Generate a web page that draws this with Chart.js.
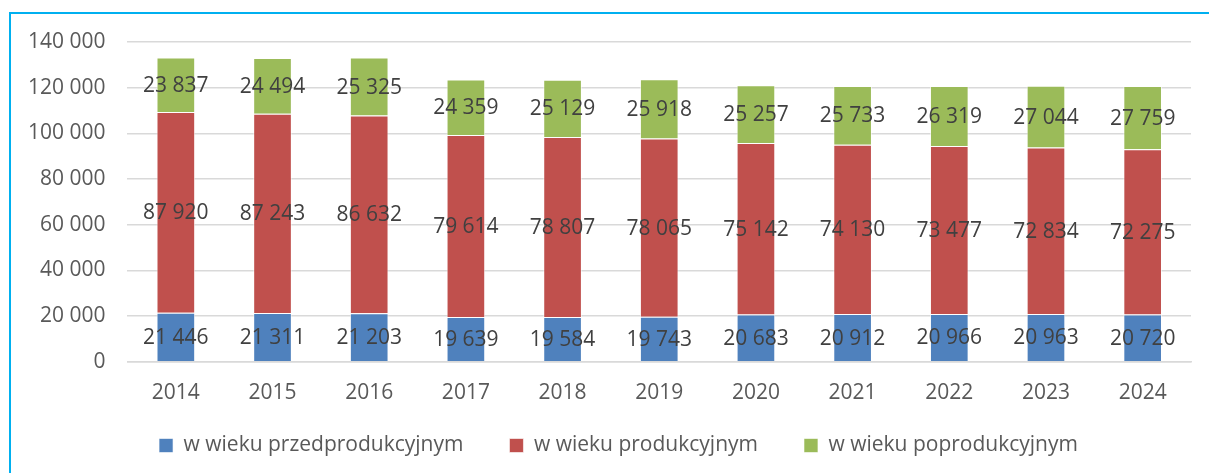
<!DOCTYPE html>
<html>
<head>
<meta charset="utf-8">
<script src="https://cdn.jsdelivr.net/npm/chart.js@4.4.1/dist/chart.umd.min.js"></script>
<style>
  html, body { margin: 0; padding: 0; background: #fff; overflow: hidden; }
  #frame {
    position: absolute; left: 9px; top: 12px; right: -20px; bottom: -20px;
    border-left: 2px solid #00B0F0; border-top: 2px solid #00B0F0;
  }
  #wrap { position: absolute; left: 0; top: 0; width: 1209px; height: 473px; }
</style>
</head>
<body>
<div id="frame"></div>
<div id="wrap"><canvas id="popChart"></canvas></div>
<script>
// Ludność wg ekonomicznych grup wieku, 2014-2024
const years = ['2014', '2015', '2016', '2017', '2018', '2019', '2020', '2021', '2022', '2023', '2024'];
const przedprodukcyjny = [21446, 21311, 21203, 19639, 19584, 19743, 20683, 20912, 20966, 20963, 20720];
const produkcyjny = [87920, 87243, 86632, 79614, 78807, 78065, 75142, 74130, 73477, 72834, 72275];
const poprodukcyjny = [23837, 24494, 25325, 24359, 25129, 25918, 25257, 25733, 26319, 27044, 27759];

const fmt = v => String(v).replace(/\B(?=(\d{3})+(?!\d))/g, ' ');
const FONT = "'Open Sans', 'Liberation Sans', sans-serif";
const LEGEND_LIFT = 36;
const LEGEND_SHIFT = 20;

// labels in the middle of each segment
const segmentLabels = {
  id: 'segmentLabels',
  afterDatasetsDraw(chart) {
    const c = chart.ctx;
    c.save();
    c.font = '21px ' + FONT;
    c.fillStyle = '#404040';
    c.textAlign = 'center';
    c.textBaseline = 'middle';
    chart.data.datasets.forEach((ds, i) => {
      const meta = chart.getDatasetMeta(i);
      meta.data.forEach((bar, j) => {
        const p = bar.getProps(['x', 'y', 'base'], true);
        c.fillText(fmt(ds.data[j]), p.x, (p.y + p.base) / 2 + 1);
      });
    });
    c.restore();
  }
};

// the legend's padding is wide (for item spacing); pull it back up under the axis
const legendLift = {
  id: 'legendLift',
  afterLayout(chart) {
    const lg = chart.legend;
    if (lg) {
      lg.top -= LEGEND_LIFT; lg.bottom -= LEGEND_LIFT;
      lg.left += LEGEND_SHIFT; lg.right += LEGEND_SHIFT;
    }
  }
};

const ctx = document.getElementById('popChart').getContext('2d');

new Chart(ctx, {
  type: 'bar',
  data: {
    labels: years,
    datasets: [
      {
        label: 'w wieku przedprodukcyjnym',
        data: przedprodukcyjny,
        backgroundColor: '#4F81BD',
        borderColor: 'rgba(255,255,255,0.6)',
        borderWidth: 1
      },
      {
        label: 'w wieku produkcyjnym',
        data: produkcyjny,
        backgroundColor: '#C0504D',
        borderColor: 'rgba(255,255,255,0.6)',
        borderWidth: 1
      },
      {
        label: 'w wieku poprodukcyjnym',
        data: poprodukcyjny,
        backgroundColor: '#9BBB59',
        borderColor: 'rgba(255,255,255,0.6)',
        borderWidth: 1
      }
    ]
  },
  options: {
    responsive: true,
    maintainAspectRatio: false,
    animation: false,
    layout: { padding: { left: 6, right: 18, top: 42, bottom: 7 - LEGEND_LIFT } },
    datasets: { bar: { categoryPercentage: 1, barPercentage: 0.4 } },
    plugins: {
      legend: {
        position: 'bottom',
        labels: {
          font: { family: FONT, size: 21 },
          color: '#595959',
          boxWidth: 14,
          boxHeight: 14,
          padding: 46
        }
      },
      tooltip: { enabled: false },
      title: { display: false }
    },
    scales: {
      x: {
        stacked: true,
        grid: { display: false, drawTicks: false },
        border: { display: true, color: '#D9D9D9', width: 1.5 },
        ticks: { font: { family: FONT, size: 21 }, color: '#595959', padding: 19 }
      },
      y: {
        stacked: true,
        min: 0,
        max: 140000,
        grid: { color: '#D9D9D9', lineWidth: 1.5, drawTicks: false },
        border: { display: false },
        ticks: {
          stepSize: 20000,
          font: { family: FONT, size: 21 },
          color: '#595959',
          padding: 22,
          callback: v => fmt(v)
        }
      }
    }
  },
  plugins: [segmentLabels, legendLift]
});
</script>
</body>
</html>
